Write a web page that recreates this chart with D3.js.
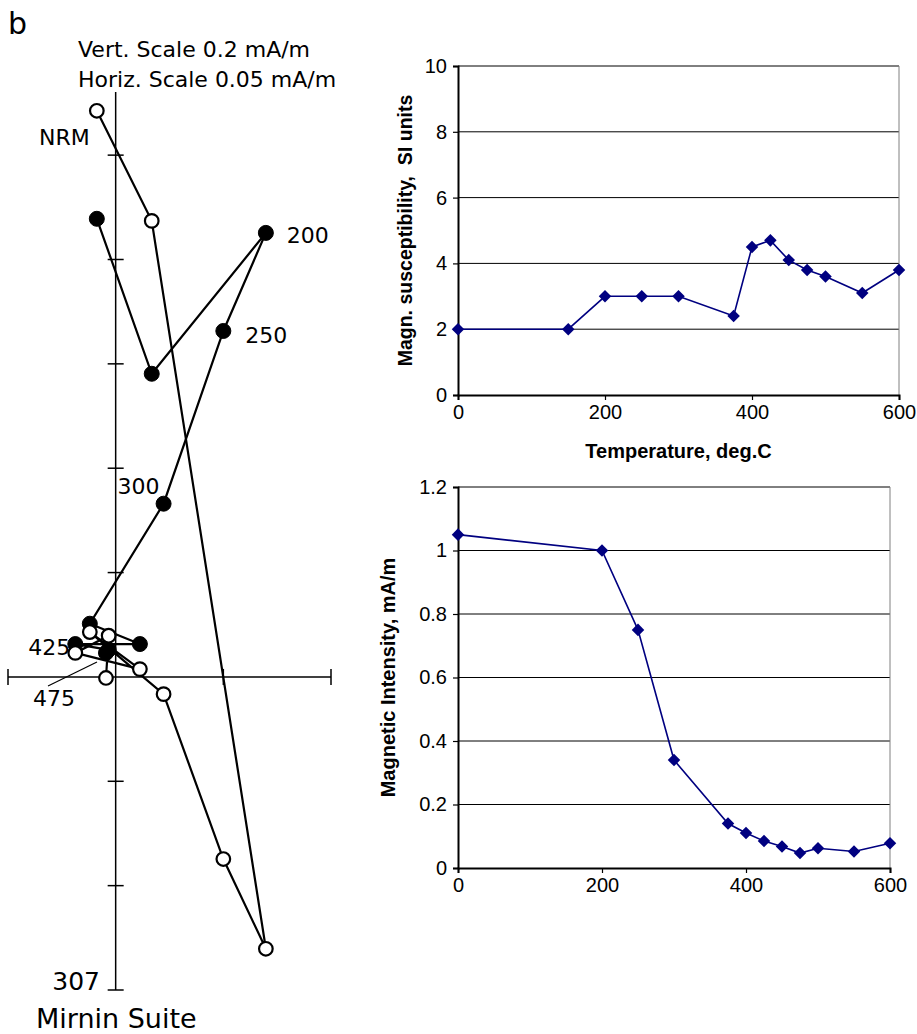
<!DOCTYPE html>
<html>
<head>
<meta charset="utf-8">
<script src="https://cdn.jsdelivr.net/npm/d3@7"></script>
<style>
  body { margin: 0; background: #fff; }
  svg { display: block; }
</style>
</head>
<body>
<div id="chart"></div>
<script>
// Zijderveld diagram, values in mA/m (one tick = 0.2 mA/m)
const zSteps = ["NRM", "150", "200", "250", "300", "375", "400", "425", "450", "475"];
const zNorth = [-0.035, 0.067, 0.279, 0.200, 0.089, -0.048, 0.045, -0.075, -0.013, -0.018];
const zHoriz = [0.878, 0.581, 0.851, 0.663, 0.332, 0.102, 0.063, 0.063, 0.052, 0.046];
const zVert = [1.085, 0.874, -0.521, -0.349, -0.033, 0.086, 0.015, 0.046, 0.079, -0.002];
const zTicksY = [-0.4, -0.2, 0.2, 0.4, 0.6, 0.8, 1.0];
const zTicksX = [0.2];

// susceptibility vs temperature
const suscTemp = [0, 150, 200, 250, 300, 375, 400, 425, 450, 475, 500, 550, 600];
const suscValue = [2, 2, 3, 3, 3, 2.4, 4.5, 4.7, 4.1, 3.8, 3.6, 3.1, 3.8];
const suscTicks = [0, 2, 4, 6, 8, 10];

// intensity vs temperature
const intTemp = [0, 200, 250, 300, 375, 400, 425, 450, 475, 500, 550, 600];
const intValue = [1.05, 1.0, 0.75, 0.34, 0.14, 0.11, 0.085, 0.068, 0.047, 0.062, 0.052, 0.078];
const intTicks = [0, 0.2, 0.4, 0.6, 0.8, 1.0, 1.2];

const tempTicks = [0, 200, 400, 600];

const width = 917, height = 1034;
const svg = d3.select("#chart").append("svg")
    .attr("width", width)
    .attr("height", height);

const gothic = "'DejaVu Sans', sans-serif";

// ---------- left panel: Zijderveld ----------
const zx = d3.scaleLinear().domain([-0.2, 0.4]).range([8, 331]);
const zy = d3.scaleLinear().domain([-0.6, 1.121]).range([990, 92]);

const zg = svg.append("g").attr("stroke", "#000").attr("fill", "none");

// axes
zg.append("line").attr("x1", zx(0)).attr("x2", zx(0)).attr("y1", zy(1.121)).attr("y2", zy(-0.6)).attr("stroke-width", 1.5);
zg.append("line").attr("x1", zx(-0.2)).attr("x2", zx(0.4)).attr("y1", zy(0)).attr("y2", zy(0)).attr("stroke-width", 1.5);
zg.selectAll(".yt").data(zTicksY.concat([-0.6])).join("line")
    .attr("x1", zx(0) - 8).attr("x2", zx(0) + 8)
    .attr("y1", d => zy(d)).attr("y2", d => zy(d))
    .attr("stroke-width", 1.5);
zg.selectAll(".xt").data(zTicksX.concat([-0.2, 0.4])).join("line")
    .attr("x1", d => zx(d)).attr("x2", d => zx(d))
    .attr("y1", zy(0) - 8).attr("y2", zy(0) + 8)
    .attr("stroke-width", 1.5);

const zData = zSteps.map((s, i) => ({ step: s, n: zNorth[i], h: zHoriz[i], v: zVert[i] }));

// path lines
const hLine = d3.line().x(d => zx(d.n)).y(d => zy(d.h));
const vLine = d3.line().x(d => zx(d.n)).y(d => zy(d.v));
zg.append("path").attr("d", hLine(zData)).attr("stroke-width", 2.2);
zg.append("path").attr("d", vLine(zData)).attr("stroke-width", 2.2);

// points
zg.selectAll(".hp").data(zData).join("circle")
    .attr("cx", d => zx(d.n)).attr("cy", d => zy(d.h)).attr("r", 7.5)
    .attr("fill", "#000").attr("stroke-width", 1);
zg.selectAll(".vp").data(zData).join("circle")
    .attr("cx", d => zx(d.n)).attr("cy", d => zy(d.v)).attr("r", 6.8)
    .attr("fill", "#fff").attr("stroke-width", 2.2);

// step labels
const byStep = s => zData.find(d => d.step === s);
const zt = svg.append("g").attr("font-family", gothic).attr("fill", "#000");
const labelAt = (s, comp, dx, dy, anchor, size) => {
    const d = byStep(s);
    zt.append("text")
        .attr("x", zx(d.n) + dx).attr("y", zy(d[comp]) + dy)
        .attr("text-anchor", anchor).attr("font-size", size)
        .text(s);
};
labelAt("NRM", "v", -7, 34, "end", 22);
labelAt("200", "h", 21, 10, "start", 22);
labelAt("250", "h", 22, 12, "start", 22);
labelAt("300", "h", -4, -10, "end", 22);
labelAt("425", "h", -5, 11, "end", 22);

// 475 with a leader line
const d475 = byStep("475");
svg.append("line")
    .attr("x1", 48).attr("y1", 686)
    .attr("x2", zx(d475.n) - 9).attr("y2", zy(d475.h) + 9)
    .attr("stroke", "#000").attr("stroke-width", 1.2);
zt.append("text").attr("x", 33).attr("y", 706).attr("font-size", 22).text("475");

zt.append("text").attr("x", 100).attr("y", 990).attr("text-anchor", "end").attr("font-size", 25).text("307");
zt.append("text").attr("x", 36).attr("y", 1028).attr("font-size", 27).text("Mirnin Suite");
zt.append("text").attr("x", 8).attr("y", 34).attr("font-size", 30).text("b");
zt.append("text").attr("x", 78).attr("y", 57).attr("font-size", 22).text("Vert. Scale 0.2 mA/m");
zt.append("text").attr("x", 78).attr("y", 87).attr("font-size", 22).text("Horiz. Scale 0.05 mA/m");

// ---------- right panels: Excel style line charts ----------
const arial = "'Liberation Sans', Arial, sans-serif";
const navy = "#000080";

function drawPanel(opts) {
    const { temps, values, yTicks, yDomain, left, right, top, bottom, yTitle, xTitle, titleX, titleSize } = opts;
    const x = d3.scaleLinear().domain([0, 600]).range([left, right]);
    const y = d3.scaleLinear().domain(yDomain).range([bottom, top]);
    const g = svg.append("g");

    // gridlines
    g.selectAll(".grid").data(yTicks.filter(t => t !== yDomain[0])).join("line")
        .attr("x1", left).attr("x2", right)
        .attr("y1", d => y(d)).attr("y2", d => y(d))
        .attr("stroke", "#000").attr("stroke-width", 1);
    // right border
    g.append("line").attr("x1", right).attr("x2", right).attr("y1", top).attr("y2", bottom)
        .attr("stroke", "#808080").attr("stroke-width", 1);

    // axes
    const yAxis = d3.axisLeft(y).tickValues(yTicks).tickSize(5).tickPadding(6)
        .tickFormat(d => d3.format("")(+d.toFixed(1)));
    const xAxis = d3.axisBottom(x).tickValues(tempTicks).tickSize(5).tickPadding(5);
    const ya = g.append("g").attr("transform", `translate(${left},0)`).call(yAxis);
    const xa = g.append("g").attr("transform", `translate(0,${bottom})`).call(xAxis);
    [ya, xa].forEach(a => {
        a.attr("font-size", 20);
        a.select(".domain").attr("stroke", "#000").attr("stroke-width", 2);
        a.selectAll(".tick line").attr("stroke", "#000").attr("stroke-width", 1.2);
        a.selectAll("text").attr("font-family", arial).attr("font-size", 20).attr("fill", "#000");
    });

    // series
    const pts = temps.map((t, i) => ({ t, v: values[i] }));
    g.append("path")
        .attr("d", d3.line().x(d => x(d.t)).y(d => y(d.v))(pts))
        .attr("fill", "none").attr("stroke", navy).attr("stroke-width", 1.6);
    g.selectAll(".pt").data(pts).join("path")
        .attr("d", d3.symbol(d3.symbolDiamond2, 100))
        .attr("transform", d => `translate(${x(d.t)},${y(d.v)})`)
        .attr("fill", navy);

    // titles
    g.append("text")
        .attr("transform", `translate(${titleX},${(top + bottom) / 2}) rotate(-90)`)
        .attr("text-anchor", "middle")
        .attr("font-family", arial).attr("font-weight", "bold").attr("font-size", titleSize)
        .style("white-space", "pre")
        .text(yTitle);
    if (xTitle) {
        g.append("text")
            .attr("x", (left + right) / 2).attr("y", bottom + 63)
            .attr("text-anchor", "middle")
            .attr("font-family", arial).attr("font-weight", "bold").attr("font-size", 20)
            .text(xTitle);
    }
}

drawPanel({
    temps: suscTemp, values: suscValue, yTicks: suscTicks, yDomain: [0, 10],
    left: 458, right: 899, top: 66, bottom: 395,
    yTitle: "Magn. susceptibility,  SI units", xTitle: "Temperature, deg.C", titleX: 412, titleSize: 19.5
});
drawPanel({
    temps: intTemp, values: intValue, yTicks: intTicks, yDomain: [0, 1.2],
    left: 458, right: 890, top: 487, bottom: 868,
    yTitle: "Magnetic Intensity, mA/m", xTitle: null, titleX: 395, titleSize: 20
});
</script>
</body>
</html>
